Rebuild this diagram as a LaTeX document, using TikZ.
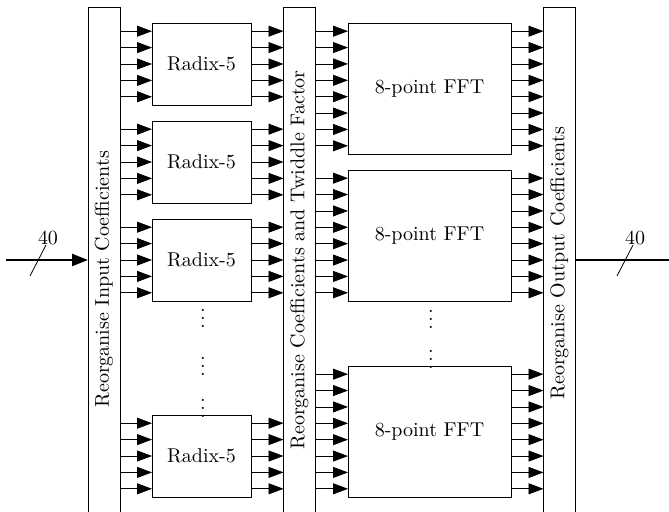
\documentclass[tikz,border=0pt]{standalone}
\usepackage{tikz}
\usetikzlibrary{arrows.meta,calc}
\tikzset{
  colbox/.style={rectangle, draw, inner sep=0pt, outer sep=0pt,
    minimum width=16pt, minimum height=256.5pt},
  radbox/.style={rectangle, draw, fill=white, inner sep=0pt, outer sep=0pt,
    minimum width=49.5pt, minimum height=41pt},
  fftbox/.style={rectangle, draw, fill=white, inner sep=0pt, outer sep=0pt,
    minimum width=81.5pt, minimum height=65.5pt},
  coltext/.style={rotate=90, anchor=west, inner sep=0pt},
  gap/.style={inner sep=0pt},
  sig/.style={-{Triangle[length=7.5pt,width=5.5pt]}},
  bus/.style={very thick},
  busarrow/.style={very thick, -{Triangle[length=8pt,width=6pt]}}
}
\begin{document}
\begin{tikzpicture}[x=0.5pt, y=-0.5pt]
  \useasboundingbox (0,0) rectangle (669,512);
  \clip (0,0) rectangle (669,512);

  \node[colbox] (inreorg) at (104,263.5) {};
  \node[colbox] (midreorg) at (299.5,263.5) {};
  \node[colbox] (outreorg) at (559.5,263.5) {};
  \node[coltext] (intext) at (104,408) {Reorganise Input Coefficients};
  \node[coltext] (midtext) at (299.5,450) {Reorganise Coefficients and Twiddle Factor};
  \node[coltext] (outtext) at (559.5,400) {Reorganise Output Coefficients};

  \node[radbox] (r1) at (201.5,64) {Radix-5};
  \node[radbox] (r2) at (201.5,162) {Radix-5};
  \node[radbox] (r3) at (201.5,260) {Radix-5};
  \node[radbox] (r4) at (201.5,456) {Radix-5};
  \node[gap] (dotsa) at (203,312) {$\vdots$};
  \node[gap] (dotsb) at (203,360) {$\vdots$};
  \node[gap] (dotsc) at (203,402) {$\vdots$};

  \node[fftbox] (f1) at (429.5,88.5) {8-point FFT};
  \node[fftbox] (f2) at (429.5,235.5) {8-point FFT};
  \node[fftbox] (f3) at (429.5,431.5) {8-point FFT};
  \node[gap] (dotsd) at (431,313) {$\vdots$};
  \node[gap] (dotse) at (431,353) {$\vdots$};

  \foreach \b in {r1,r2,r3,r4}{
    \foreach \k in {1,...,5}{
      \coordinate (p) at ($(\b.north west)!{(\k-0.5)/5}!(\b.south west)$);
      \draw[sig] (inreorg.east |- p) -- (p);
      \coordinate (q) at ($(\b.north east)!{(\k-0.5)/5}!(\b.south east)$);
      \draw[sig] (q) -- (midreorg.west |- q);
    }
  }
  \foreach \b in {f1,f2,f3}{
    \foreach \k in {1,...,8}{
      \coordinate (p) at ($(\b.north west)!{(\k-0.5)/8}!(\b.south west)$);
      \draw[sig] (midreorg.east |- p) -- (p);
      \coordinate (q) at ($(\b.north east)!{(\k-0.5)/8}!(\b.south east)$);
      \draw[sig] (q) -- (outreorg.west |- q);
    }
  }

  \coordinate (inbus) at (6,260);
  \coordinate (outbus) at (669,260);
  \draw[busarrow] (inbus) -- (inreorg.west |- inbus);
  \draw[bus] (outreorg.east |- outbus) -- (outbus);

  \coordinate (inmark) at (38,260);
  \coordinate (outmark) at (625,260);
  \draw (inmark) ++(-8,16) -- ++(16,-31);
  \draw (outmark) ++(-8,16) -- ++(16,-31);
  \node (inwidth) at (48,238) {40};
  \node (outwidth) at (635,238) {40};
\end{tikzpicture}
\end{document}
